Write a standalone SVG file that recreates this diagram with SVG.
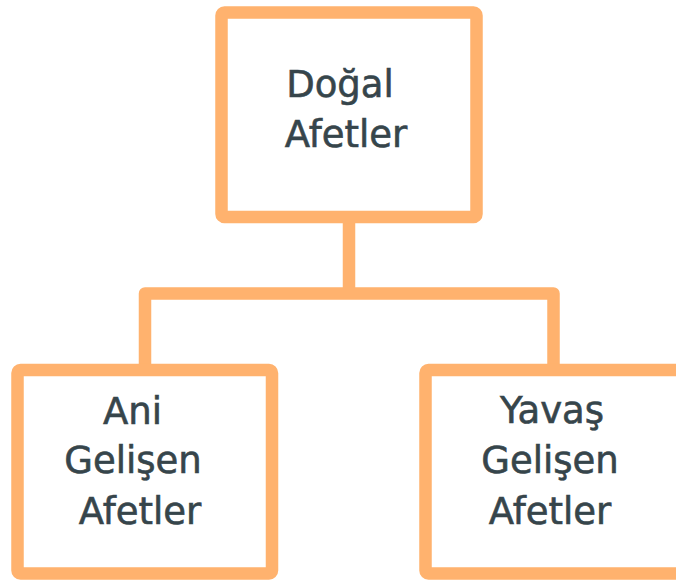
<svg xmlns="http://www.w3.org/2000/svg" width="676" height="581" viewBox="0 0 676 581">
<style>
.box{fill:#ffffff;stroke:#FFB26E;stroke-width:12.5;stroke-linejoin:round}
.conn{fill:none;stroke:#FFB26E;stroke-width:12.5;stroke-linejoin:round}
.t{font-family:"DejaVu Sans","Noto Sans",sans-serif;font-size:37px;fill:#36454B;stroke:#36454B;stroke-width:0.6;text-anchor:middle}
</style>
<rect width="676" height="581" fill="#ffffff"/>
<g id="connectors">
<path class="conn" d="M349 217 V293.5 M145 370 V293.5 H553.5 V370"/>
</g>
<g id="node-dogal">
<rect class="box" x="221.5" y="12.5" width="255" height="204.5" rx="3"/>
<text class="t" x="340" y="97">Doğal</text>
<text class="t" x="346" y="147">Afetler</text>
</g>
<g id="node-ani">
<rect class="box" x="17.5" y="370" width="254.5" height="203.5" rx="3"/>
<text class="t" x="132.5" y="424">Ani</text>
<text class="t" x="133" y="473">Gelişen</text>
<text class="t" x="140" y="524">Afetler</text>
</g>
<g id="node-yavas">
<rect class="box" x="425.5" y="370" width="260" height="203.5" rx="3"/>
<text class="t" x="552" y="423">Yavaş</text>
<text class="t" x="550" y="473">Gelişen</text>
<text class="t" x="550" y="524">Afetler</text>
</g>
</svg>
